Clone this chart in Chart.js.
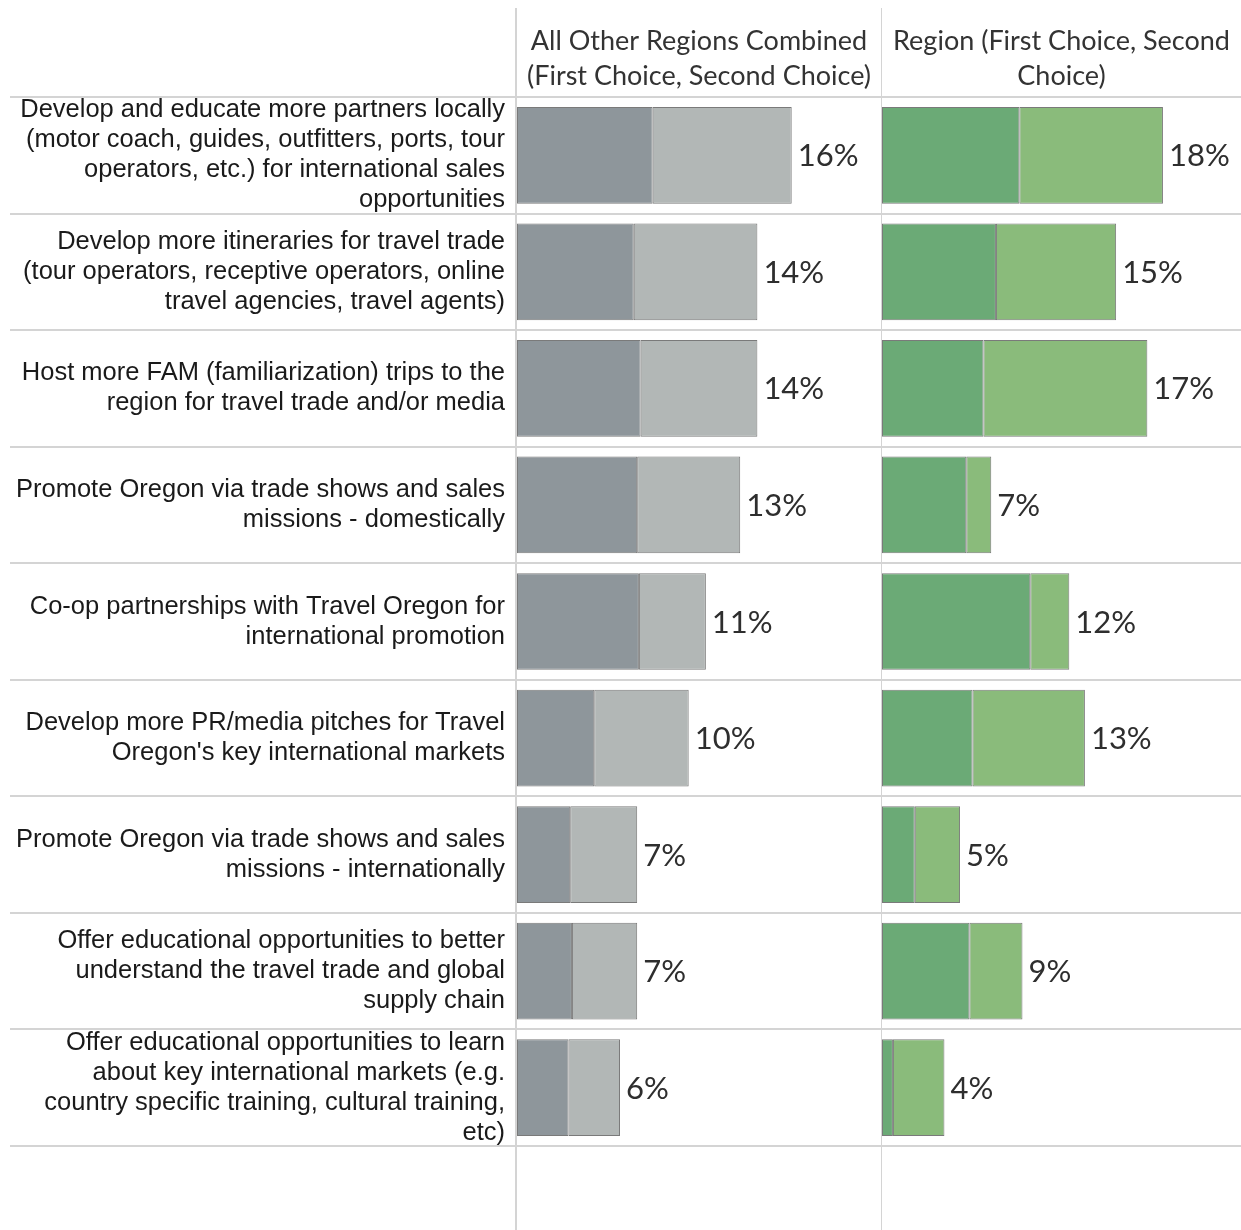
<!DOCTYPE html>
<html>
<head>
<meta charset="utf-8">
<title>Travel trade priorities</title>
<script src="https://cdn.jsdelivr.net/npm/chart.js@4.4.1/dist/chart.umd.min.js"></script>
<style>
  html, body { margin: 0; padding: 0; background: #ffffff; }
  .panel { position: absolute; top: 0; height: 1230px; }
  #leftWrap { left: 0; width: 881px; }
  #rightWrap { left: 881px; width: 360px; }
</style>
</head>
<body>
<div id="leftWrap" class="panel"><canvas id="leftChart"></canvas></div>
<div id="rightWrap" class="panel"><canvas id="rightChart"></canvas></div>
<script>
// Survey items (row labels, wrapped as shown)
const categories = [
  ["Develop and educate more partners locally", "(motor coach, guides, outfitters, ports, tour", "operators, etc.) for international sales", "opportunities"],
  ["Develop more itineraries for travel trade", "(tour operators, receptive operators, online", "travel agencies, travel agents)"],
  ["Host more FAM (familiarization) trips to the", "region for travel trade and/or media"],
  ["Promote Oregon via trade shows and sales", "missions - domestically"],
  ["Co-op partnerships with Travel Oregon for", "international promotion"],
  ["Develop more PR/media pitches for Travel", "Oregon's key international markets"],
  ["Promote Oregon via trade shows and sales", "missions - internationally"],
  ["Offer educational opportunities to better", "understand the travel trade and global", "supply chain"],
  ["Offer educational opportunities to learn", "about key international markets (e.g.", "country specific training, cultural training,", "etc)"]
];

// Column headers
const otherHeader = ["All Other Regions Combined", "(First Choice, Second Choice)"];
const regionHeader = ["Region (First Choice, Second", "Choice)"];

// Share of respondents (%) — all other regions combined
const otherFirst  = [7.9, 6.8, 7.2, 7.0, 7.1, 4.5, 3.1, 3.2, 3.0];
const otherSecond = [8.1, 7.2, 6.8, 6.0, 3.9, 5.5, 3.9, 3.8, 3.0];

// Share of respondents (%) — region
const regionFirst  = [8.8, 7.3, 6.5, 5.4, 9.5, 5.8, 2.1, 5.6, 0.7];
const regionSecond = [9.2, 7.7, 10.5, 1.6, 2.5, 7.2, 2.9, 3.4, 3.3];

const GRID = '#d4d4d4';
const HEADER_FONT = { family: 'Lato, "Open Sans", sans-serif', size: 27, weight: 'normal', lineHeight: '35px' };
const LABEL_FONT = '31px Lato, "Open Sans", sans-serif';
const TICK_FONT = { family: '"Liberation Sans", Arial, sans-serif', size: 25.5, lineHeight: '30px' };

// Table-style rules: row separators and the panel's left edge
const tableGrid = {
  id: 'tableGrid',
  beforeDatasetsDraw(chart, args, opts) {
    const { ctx, chartArea, scales: { y } } = chart;
    ctx.save();
    ctx.strokeStyle = GRID;
    ctx.lineWidth = 2;
    ctx.beginPath();
    for (let i = 0; i <= categories.length; i++) {
      const yy = Math.round(y.getPixelForValue(i - 0.5));
      ctx.moveTo(opts.lineStart, yy);
      ctx.lineTo(chart.width, yy);
    }
    const vx = chartArea.left - 1;
    ctx.moveTo(vx, 8);
    ctx.lineTo(vx, chart.height);
    ctx.stroke();
    ctx.restore();
  }
};

// Total percentage printed after each stacked bar
const totalLabels = {
  id: 'totalLabels',
  afterDatasetsDraw(chart) {
    const { ctx } = chart;
    const first = chart.data.datasets[0].data;
    const second = chart.data.datasets[1].data;
    const meta = chart.getDatasetMeta(1);
    ctx.save();
    ctx.font = LABEL_FONT;
    ctx.fillStyle = '#2e2e2e';
    ctx.textAlign = 'left';
    ctx.textBaseline = 'middle';
    meta.data.forEach((bar, i) => {
      const total = Math.round(first[i] + second[i]);
      ctx.fillText(total + '%', bar.x + 6, bar.y + 1);
    });
    ctx.restore();
  }
};

function makePanel(canvasId, header, first, second, colors, xMax, showLabels) {
  return new Chart(document.getElementById(canvasId), {
    type: 'bar',
    data: {
      labels: categories,
      datasets: [
        { label: 'First Choice', data: first, backgroundColor: colors[0] },
        { label: 'Second Choice', data: second, backgroundColor: colors[1] }
      ]
    },
    options: {
      indexAxis: 'y',
      responsive: true,
      maintainAspectRatio: false,
      animation: false,
      devicePixelRatio: 1,
      layout: { padding: { top: 0, bottom: 84, left: showLabels ? 0 : 1, right: 0 } },
      datasets: {
        bar: {
          categoryPercentage: 1,
          barPercentage: 0.83,
          borderColor: '#7a7a7a',
          borderWidth: 1,
          borderSkipped: false
        }
      },
      scales: {
        x: { stacked: true, min: 0, max: xMax, display: false },
        y: {
          stacked: true,
          display: showLabels,
          grid: { display: false, drawTicks: false },
          border: { display: false },
          ticks: {
            autoSkip: false,
            padding: 12,
            color: '#1a1a1a',
            font: TICK_FONT
          },
          afterFit(scale) { if (showLabels) scale.width = 517; }
        }
      },
      plugins: {
        legend: { display: false },
        tooltip: { enabled: false },
        title: {
          display: true,
          text: header,
          fullSize: false,
          color: '#333333',
          font: HEADER_FONT,
          padding: { top: 24, bottom: 3 }
        },
        tableGrid: { lineStart: showLabels ? 10 : 0 }
      }
    },
    plugins: [tableGrid, totalLabels]
  });
}

makePanel('leftChart', otherHeader, otherFirst, otherSecond, ['#8e969b', '#b2b7b6'], 21.2, true);
makePanel('rightChart', regionHeader, regionFirst, regionSecond, ['#6baa76', '#8abb7b'], 23.0, false);
</script>
</body>
</html>
